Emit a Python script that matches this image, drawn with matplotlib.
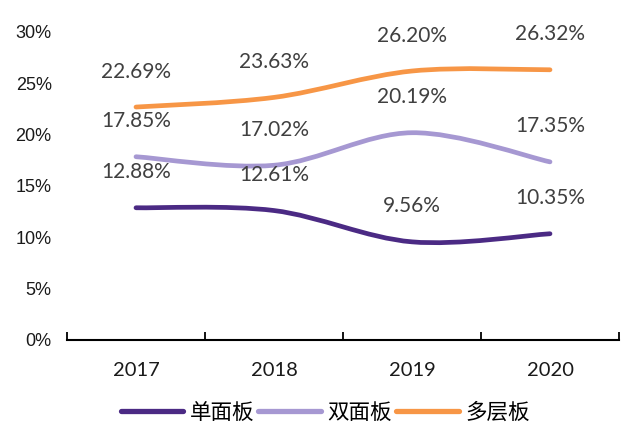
import matplotlib
matplotlib.use("Agg")
import matplotlib.pyplot as plt
from matplotlib.path import Path
from matplotlib.patches import PathPatch
from matplotlib.lines import Line2D
import numpy as np

years = ["2017", "2018", "2019", "2020"]
single = [12.88, 12.61, 9.56, 10.35]
double = [17.85, 17.02, 20.19, 17.35]
multi = [22.69, 23.63, 26.20, 26.32]
series_names = ["单面板", "双面板", "多层板"]
colors = ["#4B2A84", "#A698D2", "#F79646"]
yticks = [0, 5, 10, 15, 20, 25, 30]

fig = plt.figure(figsize=(6.35, 4.3), dpi=100)
ax = fig.add_axes([67/635, 1 - 340/430, (619 - 67)/635, (340 - 32)/430])
ax.set_xlim(-0.5, 3.5)
ax.set_ylim(0, 30)


def smooth_path(xs, ys):
    pts = np.column_stack([xs, ys]).astype(float)
    n = len(pts)
    verts = [pts[0]]
    codes = [Path.MOVETO]
    for i in range(n - 1):
        p0 = pts[i - 1] if i > 0 else pts[i]
        p1 = pts[i]
        p2 = pts[i + 1]
        p3 = pts[i + 2] if i + 2 < n else pts[i + 1]
        c1 = p1 + (p2 - p0) / 6.0
        c2 = p2 - (p3 - p1) / 6.0
        verts += [c1, c2, p2]
        codes += [Path.CURVE4] * 3
    return Path(verts, codes)


xs = np.arange(len(years))
for vals, c in zip([single, double, multi], colors):
    patch = PathPatch(smooth_path(xs, vals), facecolor="none", edgecolor=c,
                      lw=3.4, capstyle="round", joinstyle="round")
    ax.add_patch(patch)
    for x, v in zip(xs, vals):
        ax.annotate(f"{v:.2f}%", (x, v), xytext=(0, 25.5), textcoords="offset points",
                    ha="center", va="center", fontsize=15, color="#404040",
                    family="Lato")

ax.set_yticks(yticks)
ax.set_yticklabels([f"{t}%" for t in yticks], family="Liberation Sans",
                   fontsize=13, color="#1a1a1a")
ax.tick_params(axis="y", length=0, pad=11)

ax.set_xticks(xs)
ax.set_xticklabels(years, family="Lato", fontsize=14.5, color="#1a1a1a")
ax.tick_params(axis="x", length=0, pad=16)
ax.set_xticks(np.arange(-0.5, 4, 1), minor=True)
ax.tick_params(axis="x", which="minor", direction="in", length=6, width=1.3,
               color="black")

for s in ["left", "right", "top"]:
    ax.spines[s].set_visible(False)
ax.spines["bottom"].set_linewidth(1.5)
ax.spines["bottom"].set_color("black")

handles = [Line2D([0], [0], color=c, lw=3.8, solid_capstyle="round") for c in colors]
fig.legend(handles, series_names, loc="center", bbox_to_anchor=(0.512, 1 - 413/430),
           ncol=3, frameon=False, handlelength=2.9, handletextpad=0.3,
           columnspacing=0.2, borderpad=0.2,
           prop={"family": ["Noto Sans CJK SC", "DejaVu Sans"], "size": 15.5})

fig.savefig("out.png", dpi=100)
